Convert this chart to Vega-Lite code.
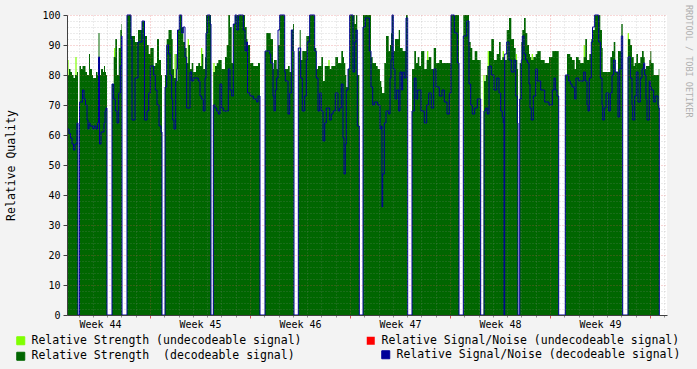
{
"$schema": "https://vega.github.io/schema/vega-lite/v6.json",
"width": 600, "height": 300,
"autosize": {"type": "none"},
"padding": {"left": 67, "top": 15, "right": 30, "bottom": 54},
"background": "#f3f3f3",
"view": {"fill": "#ffffff", "stroke": null},
"title": {"text": "RRDTOOL / TOBI OETIKER", "orient": "right", "anchor": "start", "font": "DejaVu Sans Mono", "fontSize": 8.5, "fontWeight": "normal", "color": "#b0b0b0", "offset": 3, "dx": -5},
"datasets": {
"sig": [
{"t":1.19,"g":80,"b":62},{"t":1.33,"g":82,"b":60.5},{"t":1.435,"g":81,"b":59},{"t":1.54,"g":80,"b":57},{"t":1.645,"g":79,"b":55},{"t":1.75,"g":80,"b":57},{"t":1.89,"g":81,"b":64},{"t":1.96,"g":81,"b":0},{"t":1.97,"g":null,"b":0},
{"t":2.065,"g":83,"b":71},{"t":2.17,"g":82,"b":71},{"t":2.275,"g":83,"b":75},{"t":2.38,"g":83,"b":72},{"t":2.485,"g":81,"b":70},{"t":2.59,"g":80,"b":65},{"t":2.66,"g":80,"b":62},{"t":2.73,"g":87,"b":64},{"t":2.8,"g":82,"b":63},{"t":2.94,"g":80,"b":63},{"t":3.01,"g":79,"b":62},{"t":3.08,"g":79,"b":63},{"t":3.22,"g":81,"b":62},{"t":3.325,"g":80,"b":64},{"t":3.395,"g":94,"b":86},{"t":3.465,"g":80,"b":57},{"t":3.57,"g":82,"b":61},{"t":3.71,"g":81,"b":61},{"t":3.78,"g":83,"b":64},{"t":3.85,"g":81,"b":68},{"t":3.92,"g":80,"b":69},{"t":3.99,"g":80,"b":0},{"t":3.995,"g":null,"b":0},
{"t":4.34,"g":77,"b":77},{"t":4.459,"g":86,"b":72},{"t":4.571,"g":92,"b":68},{"t":4.69,"g":80,"b":64},{"t":4.809,"g":89,"b":74},{"t":4.921,"g":95,"b":83},{"t":5.005,"g":97,"b":93},{"t":5.04,"g":97,"b":0},{"t":5.045,"g":null,"b":0},
{"t":5.39,"g":100,"b":100},{"t":5.6,"g":100,"b":100},{"t":5.67,"g":93,"b":92},{"t":5.74,"g":93,"b":65},{"t":5.95,"g":91,"b":79},{"t":6.16,"g":95,"b":91},{"t":6.44,"g":98,"b":98},{"t":6.615,"g":93,"b":65},{"t":6.79,"g":90,"b":68},{"t":6.909,"g":87,"b":74},{"t":7.021,"g":89,"b":83},{"t":7.259,"g":83,"b":80},{"t":7.371,"g":84,"b":75},{"t":7.49,"g":92,"b":70},{"t":7.63,"g":85,"b":63},{"t":7.77,"g":80,"b":61},{"t":7.84,"g":80,"b":0},{"t":7.845,"g":null,"b":0},
{"t":8.05,"g":80,"b":76},{"t":8.169,"g":92,"b":90},{"t":8.295,"g":95,"b":87},{"t":8.4,"g":95,"b":80},{"t":8.519,"g":92,"b":72},{"t":8.589,"g":82,"b":65},{"t":8.68,"g":79,"b":62},{"t":8.799,"g":87,"b":78},{"t":8.869,"g":78,"b":82},{"t":8.925,"g":95,"b":95},{"t":9.051,"g":100,"b":100},{"t":9.219,"g":96,"b":94},{"t":9.331,"g":91,"b":96},{"t":9.45,"g":89,"b":86},{"t":9.569,"g":84,"b":69},{"t":9.681,"g":90,"b":69},{"t":9.8,"g":82,"b":81},{"t":9.919,"g":84,"b":78},{"t":10.031,"g":81,"b":79},{"t":10.22,"g":83,"b":79},{"t":10.381,"g":84,"b":78},{"t":10.5,"g":83,"b":73},{"t":10.619,"g":87,"b":72},{"t":10.731,"g":82,"b":68},{"t":10.85,"g":86,"b":79},{"t":10.92,"g":100,"b":94},{"t":11.011,"g":100,"b":100},{"t":11.2,"g":100,"b":97},{"t":11.27,"g":100,"b":0},{"t":11.275,"g":null,"b":0},
{"t":11.431,"g":81,"b":70},{"t":11.55,"g":83,"b":69},{"t":11.669,"g":84,"b":68},{"t":11.781,"g":85,"b":67},{"t":11.9,"g":85,"b":77},{"t":12.019,"g":82,"b":69},{"t":12.131,"g":82,"b":68},{"t":12.25,"g":86,"b":68},{"t":12.369,"g":90,"b":68},{"t":12.481,"g":100,"b":82},{"t":12.6,"g":96,"b":75},{"t":12.719,"g":84,"b":73},{"t":12.831,"g":97,"b":97},{"t":12.95,"g":100,"b":100},{"t":13.069,"g":100,"b":95},{"t":13.181,"g":100,"b":100},{"t":13.419,"g":100,"b":100},{"t":13.531,"g":100,"b":95},{"t":13.65,"g":96,"b":88},{"t":13.769,"g":92,"b":91},{"t":13.825,"g":90,"b":74},{"t":14.0,"g":84,"b":73},{"t":14.231,"g":83,"b":72},{"t":14.35,"g":83,"b":72},{"t":14.469,"g":83,"b":71},{"t":14.56,"g":84,"b":73},{"t":14.7,"g":84,"b":0},{"t":14.705,"g":null,"b":0},
{"t":15.05,"g":88,"b":88},{"t":15.141,"g":94,"b":88},{"t":15.379,"g":94,"b":87},{"t":15.449,"g":92,"b":84},{"t":15.61,"g":82,"b":73},{"t":15.68,"g":85,"b":68},{"t":15.771,"g":85,"b":75},{"t":15.869,"g":82,"b":79},{"t":15.96,"g":90,"b":95},{"t":16.079,"g":100,"b":100},{"t":16.31,"g":100,"b":100},{"t":16.429,"g":82,"b":81},{"t":16.471,"g":82,"b":78},{"t":16.66,"g":83,"b":67},{"t":16.779,"g":81,"b":74},{"t":16.891,"g":95,"b":95},{"t":17.01,"g":97,"b":88},{"t":17.08,"g":97,"b":0},{"t":17.085,"g":null,"b":0},
{"t":17.381,"g":88,"b":89},{"t":17.479,"g":95,"b":89},{"t":17.549,"g":85,"b":79},{"t":17.661,"g":88,"b":68},{"t":17.829,"g":88,"b":73},{"t":17.941,"g":93,"b":85},{"t":18.011,"g":93,"b":91},{"t":18.179,"g":100,"b":100},{"t":18.41,"g":100,"b":100},{"t":18.529,"g":89,"b":88},{"t":18.641,"g":82,"b":79},{"t":18.76,"g":83,"b":68},{"t":18.879,"g":83,"b":74},{"t":18.991,"g":86,"b":68},{"t":19.11,"g":78,"b":58},{"t":19.229,"g":83,"b":64},{"t":19.341,"g":83,"b":69},{"t":19.579,"g":82,"b":65},{"t":19.691,"g":83,"b":67},{"t":19.81,"g":83,"b":68},{"t":19.971,"g":86,"b":74},{"t":20.16,"g":84,"b":68},{"t":20.279,"g":84,"b":69},{"t":20.391,"g":88,"b":77},{"t":20.51,"g":86,"b":59},{"t":20.58,"g":84,"b":47},{"t":20.671,"g":80,"b":57},{"t":20.741,"g":76,"b":75},{"t":20.86,"g":82,"b":82},{"t":20.979,"g":100,"b":100},{"t":21.21,"g":100,"b":81},{"t":21.329,"g":97,"b":91},{"t":21.42,"g":100,"b":95},{"t":21.511,"g":80,"b":63},{"t":21.651,"g":80,"b":0},{"t":21.656,"g":null,"b":0},
{"t":21.91,"g":100,"b":96},{"t":22.071,"g":100,"b":99},{"t":22.309,"g":100,"b":99},{"t":22.351,"g":100,"b":88},{"t":22.47,"g":86,"b":76},{"t":22.589,"g":84,"b":70},{"t":22.701,"g":84,"b":71},{"t":22.82,"g":83,"b":71},{"t":22.939,"g":82,"b":70},{"t":23.1,"g":78,"b":62},{"t":23.191,"g":76,"b":63},{"t":23.24,"g":74,"b":36},{"t":23.289,"g":74,"b":47},{"t":23.401,"g":84,"b":64},{"t":23.52,"g":93,"b":68},{"t":23.709,"g":88,"b":67},{"t":23.8,"g":90,"b":79},{"t":23.87,"g":94,"b":85},{"t":23.94,"g":100,"b":100},{"t":24.031,"g":88,"b":82},{"t":24.15,"g":92,"b":72},{"t":24.269,"g":92,"b":75},{"t":24.409,"g":95,"b":68},{"t":24.5,"g":89,"b":81},{"t":24.619,"g":89,"b":75},{"t":24.689,"g":88,"b":81},{"t":24.801,"g":88,"b":79},{"t":24.92,"g":100,"b":99},{"t":25.039,"g":100,"b":0},{"t":25.044,"g":null,"b":0},
{"t":25.34,"g":82,"b":68},{"t":25.501,"g":88,"b":79},{"t":25.62,"g":84,"b":72},{"t":25.739,"g":86,"b":75},{"t":25.851,"g":83,"b":75},{"t":25.97,"g":88,"b":68},{"t":26.201,"g":82,"b":64},{"t":26.369,"g":85,"b":70},{"t":26.509,"g":86,"b":74},{"t":26.691,"g":82,"b":69},{"t":26.859,"g":89,"b":82},{"t":27.02,"g":84,"b":76},{"t":27.251,"g":85,"b":73},{"t":27.44,"g":84,"b":75},{"t":27.601,"g":84,"b":71},{"t":27.79,"g":84,"b":67},{"t":27.951,"g":84,"b":74},{"t":28.07,"g":100,"b":100},{"t":28.189,"g":100,"b":100},{"t":28.301,"g":100,"b":94},{"t":28.511,"g":100,"b":84},{"t":28.63,"g":100,"b":0},{"t":28.635,"g":null,"b":0},
{"t":28.931,"g":100,"b":93},{"t":29.169,"g":100,"b":98},{"t":29.33,"g":91,"b":77},{"t":29.449,"g":89,"b":70},{"t":29.561,"g":85,"b":67},{"t":29.729,"g":88,"b":69},{"t":29.911,"g":85,"b":72},{"t":30.1,"g":85,"b":72},{"t":30.149,"g":85,"b":0},{"t":30.154,"g":null,"b":0},
{"t":30.38,"g":78,"b":68},{"t":30.499,"g":80,"b":69},{"t":30.611,"g":83,"b":67},{"t":30.73,"g":88,"b":83},{"t":30.891,"g":92,"b":80},{"t":31.08,"g":85,"b":75},{"t":31.269,"g":87,"b":79},{"t":31.43,"g":91,"b":74},{"t":31.549,"g":85,"b":68},{"t":31.661,"g":86,"b":66},{"t":31.731,"g":86,"b":64},{"t":31.78,"g":86,"b":0},{"t":31.829,"g":85,"b":87},{"t":31.969,"g":95,"b":91},{"t":32.13,"g":99,"b":85},{"t":32.291,"g":92,"b":81},{"t":32.48,"g":89,"b":85},{"t":32.599,"g":85,"b":73},{"t":32.711,"g":82,"b":64},{"t":32.76,"g":82,"b":0},{"t":32.765,"g":null,"b":0},
{"t":32.879,"g":84,"b":72},{"t":32.991,"g":91,"b":85},{"t":33.061,"g":95,"b":93},{"t":33.18,"g":99,"b":87},{"t":33.299,"g":94,"b":85},{"t":33.411,"g":90,"b":84},{"t":33.53,"g":87,"b":77},{"t":33.6,"g":86,"b":69},{"t":33.691,"g":85,"b":65},{"t":33.831,"g":86,"b":73},{"t":33.999,"g":87,"b":82},{"t":34.111,"g":88,"b":78},{"t":34.349,"g":85,"b":75},{"t":34.629,"g":84,"b":71},{"t":34.93,"g":86,"b":70},{"t":35.161,"g":88,"b":75},{"t":35.28,"g":88,"b":79},{"t":35.371,"g":88,"b":75},{"t":35.49,"g":88,"b":73},{"t":35.609,"g":88,"b":0},{"t":35.614,"g":null,"b":0},
{"t":36.071,"g":80,"b":80},{"t":36.19,"g":87,"b":80},{"t":36.309,"g":87,"b":78},{"t":36.421,"g":86,"b":77},{"t":36.54,"g":85,"b":76},{"t":36.729,"g":82,"b":72},{"t":36.82,"g":86,"b":79},{"t":37.009,"g":85,"b":78},{"t":37.121,"g":84,"b":78},{"t":37.359,"g":86,"b":81},{"t":37.471,"g":92,"b":78},{"t":37.59,"g":85,"b":70},{"t":37.66,"g":85,"b":68},{"t":37.751,"g":87,"b":79},{"t":37.891,"g":92,"b":91},{"t":37.975,"g":95,"b":96},{"t":38.129,"g":100,"b":100},{"t":38.29,"g":100,"b":100},{"t":38.409,"g":100,"b":91},{"t":38.521,"g":95,"b":79},{"t":38.64,"g":89,"b":70},{"t":38.689,"g":81,"b":65},{"t":38.801,"g":81,"b":69},{"t":38.92,"g":81,"b":74},{"t":39.109,"g":81,"b":68},{"t":39.221,"g":86,"b":74},{"t":39.34,"g":88,"b":80},{"t":39.459,"g":91,"b":85},{"t":39.571,"g":81,"b":81},{"t":39.76,"g":88,"b":66},{"t":39.879,"g":88,"b":82},{"t":39.991,"g":97,"b":93},{"t":40.089,"g":94,"b":0},{"t":40.094,"g":null,"b":0},
{"t":40.46,"g":92,"b":86},{"t":40.621,"g":90,"b":79},{"t":40.74,"g":86,"b":70},{"t":40.789,"g":86,"b":65},{"t":40.859,"g":83,"b":65},{"t":40.929,"g":84,"b":73},{"t":41.041,"g":87,"b":81},{"t":41.16,"g":84,"b":71},{"t":41.321,"g":86,"b":79},{"t":41.44,"g":88,"b":82},{"t":41.559,"g":86,"b":84},{"t":41.629,"g":82,"b":80},{"t":41.72,"g":83,"b":72},{"t":41.79,"g":83,"b":65},{"t":41.951,"g":85,"b":78},{"t":42.021,"g":88,"b":76},{"t":42.091,"g":84,"b":75},{"t":42.259,"g":80,"b":71},{"t":42.371,"g":80,"b":73},{"t":42.56,"g":80,"b":70},{"t":42.609,"g":82,"b":69},{"t":42.651,"g":82,"b":0}
],
"lime": [
{"t":1.26,"v":85},{"t":1.82,"v":86},{"t":4.529,"v":89},{"t":8.75,"v":87},{"t":9.681,"v":92},{"t":10.619,"v":89},{"t":11.48,"v":84},{"t":19.53,"v":85},{"t":26.439,"v":88},{"t":30.38,"v":80},{"t":30.681,"v":88},{"t":31.731,"v":88},{"t":32.641,"v":87},{"t":33.761,"v":87},{"t":37.401,"v":90},{"t":40.481,"v":94}
]
},
"layer": [
{
"data": {"name": "lime"},
"mark": {"type": "rule", "strokeWidth": 1.2},
"encoding": {
"x": {"field": "t", "type": "quantitative", "scale": {"domain": [1.19, 43.19], "nice": false, "zero": false},
"axis": {"orient": "bottom", "values": [2,3,4,5,6,8,9,10,11,12,13,15,16,17,18,19,20,22,23,24,25,26,27,29,30,31,32,33,34,36,37,38,39,40,41,43], "grid": true, "gridColor": "#8f8f8f", "gridOpacity": 0.35, "gridDash": [1,2], "labels": false, "ticks": true, "tickSize": 2, "tickColor": "#8f8f8f", "domain": false, "title": null, "zindex": 1}},
"y": {"field": "v", "type": "quantitative", "scale": {"domain": [0, 100], "nice": false, "zero": false},
"axis": {"orient": "left", "values": [2,4,6,8,12,14,16,18,22,24,26,28,32,34,36,38,42,44,46,48,52,54,56,58,62,64,66,68,72,74,76,78,82,84,86,88,92,94,96,98], "grid": true, "gridColor": "#8f8f8f", "gridOpacity": 0.35, "gridDash": [1,2], "labels": false, "ticks": false, "domain": false, "title": null, "zindex": 1}},
"y2": {"datum": 0},
"color": {"datum": "Relative Strength (undecodeable signal)", "type": "nominal",
"scale": {"domain": ["Relative Strength (undecodeable signal)", "Relative Strength \u00a0(decodeable signal)"], "range": ["#7fff00", "#006600"]},
"legend": {"orient": "none", "legendX": -52, "legendY": 320, "title": null, "direction": "vertical", "padding": 0, "symbolType": "square", "symbolSize": 64, "labelFont": "DejaVu Sans Mono", "labelFontSize": 11.5, "labelColor": "#000000", "labelOffset": 5, "rowPadding": 2.5, "labelLimit": 500,
"encode": {"symbols": {"update": {"fill": {"scale": "color", "field": "value"}, "stroke": {"value": "#000000"}, "strokeWidth": {"value": 1}, "shape": {"value": "square"}, "opacity": {"value": 1}, "fillOpacity": {"value": 1}, "strokeOpacity": {"value": 1}}}}}}
}
},
{
"data": {"name": "sig"},
"mark": {"type": "area", "interpolate": "step-after", "invalid": "break-paths-show-domains"},
"encoding": {
"x": {"field": "t", "type": "quantitative", "scale": {"domain": [1.19, 43.19], "nice": false, "zero": false},
"axis": {"orient": "bottom", "values": [7,14,21,28,35,42], "grid": true, "gridColor": "#de5151", "gridOpacity": 0.45, "gridDash": [1,2], "labels": false, "ticks": true, "tickSize": 3, "tickColor": "#de5151", "domain": false, "title": null, "zindex": 1}},
"y": {"field": "g", "type": "quantitative", "scale": {"domain": [0, 100], "nice": false, "zero": false},
"axis": {"orient": "left", "values": [0,10,20,30,40,50,60,70,80,90,100], "grid": true, "gridColor": "#de5151", "gridOpacity": 0.45, "gridDash": [1,2], "labels": true, "labelFont": "DejaVu Sans Mono", "labelFontSize": 10, "labelColor": "#000000", "labelPadding": 3, "ticks": true, "tickSize": 4, "tickColor": "#404040", "domain": true, "domainColor": "#404040", "title": "Relative Quality", "titleFont": "DejaVu Sans Mono", "titleFontSize": 11.5, "titleFontWeight": "normal", "titleColor": "#000000", "titlePadding": 25, "zindex": 1}},
"color": {"datum": "Relative Strength \u00a0(decodeable signal)", "type": "nominal",
"scale": {"domain": ["Relative Strength (undecodeable signal)", "Relative Strength \u00a0(decodeable signal)"], "range": ["#7fff00", "#006600"]}}
}
},
{
"data": {"name": "sig"},
"mark": {"type": "line", "interpolate": "step-after", "strokeWidth": 1},
"encoding": {
"x": {"field": "t", "type": "quantitative", "scale": {"domain": [1.19, 43.19], "nice": false, "zero": false},
"axis": {"orient": "bottom", "values": [3.5,10.5,17.5,24.5,31.5,38.5], "labelExpr": "'Week ' + (43 + round((datum.value + 3.5) / 7))", "grid": false, "ticks": false, "domain": true, "domainColor": "#404040", "labelFont": "DejaVu Sans Mono", "labelFontSize": 10, "labelColor": "#000000", "labelPadding": 4, "title": null, "zindex": 1}},
"y": {"field": "b", "type": "quantitative", "scale": {"domain": [0, 100], "nice": false, "zero": false}, "axis": null},
"stroke": {"datum": "Relative Signal/Noise (decodeable signal)", "type": "nominal",
"scale": {"domain": ["Relative Signal/Noise (decodeable signal)"], "range": ["#000099"]},
"legend": {"orient": "none", "legendX": 313, "legendY": 334, "title": null, "padding": 0, "symbolType": "square", "symbolSize": 64, "labelFont": "DejaVu Sans Mono", "labelFontSize": 11.5, "labelColor": "#000000", "labelOffset": 5, "labelLimit": 500,
"encode": {"symbols": {"update": {"fill": {"value": "#000099"}, "stroke": {"value": "#000000"}, "strokeWidth": {"value": 1}, "shape": {"value": "square"}, "opacity": {"value": 1}, "fillOpacity": {"value": 1}, "strokeOpacity": {"value": 1}}}}}}
}
},
{
"data": {"values": []},
"mark": {"type": "point", "filled": true, "color": "#ff0000", "opacity": 1},
"encoding": {
"x": {"field": "t", "type": "quantitative", "scale": {"domain": [1.19, 43.19], "nice": false, "zero": false}, "axis": null},
"y": {"field": "r", "type": "quantitative", "scale": {"domain": [0, 100], "nice": false, "zero": false}, "axis": null},
"shape": {"datum": "Relative Signal/Noise (undecodeable signal)", "type": "nominal",
"scale": {"domain": ["Relative Signal/Noise (undecodeable signal)"], "range": ["square"]},
"legend": {"orient": "none", "legendX": 298, "legendY": 320, "title": null, "padding": 0, "symbolType": "square", "symbolSize": 64, "labelFont": "DejaVu Sans Mono", "labelFontSize": 11.5, "labelColor": "#000000", "labelOffset": 5, "labelLimit": 500,
"encode": {"symbols": {"update": {"fill": {"value": "#ff0000"}, "stroke": {"value": "#000000"}, "strokeWidth": {"value": 1}, "shape": {"value": "square"}, "opacity": {"value": 1}, "fillOpacity": {"value": 1}, "strokeOpacity": {"value": 1}}}}}}
}
},
{
"mark": {"type": "point", "shape": "triangle-up", "filled": true, "color": "#800000", "size": 30, "opacity": 1, "clip": false},
"encoding": {
"x": {"datum": 1.19, "type": "quantitative", "scale": {"domain": [1.19, 43.19], "nice": false, "zero": false}, "axis": null},
"y": {"datum": 101.6, "type": "quantitative", "scale": {"domain": [0, 100], "nice": false, "zero": false}, "axis": null}
}
},
{
"mark": {"type": "point", "shape": "triangle-right", "filled": true, "color": "#800000", "size": 30, "opacity": 1, "clip": false},
"encoding": {
"x": {"datum": 43.42, "type": "quantitative", "scale": {"domain": [1.19, 43.19], "nice": false, "zero": false}, "axis": null},
"y": {"datum": 0, "type": "quantitative", "scale": {"domain": [0, 100], "nice": false, "zero": false}, "axis": null}
}
}
],
"resolve": {"axis": {"x": "independent", "y": "independent"}}
}
